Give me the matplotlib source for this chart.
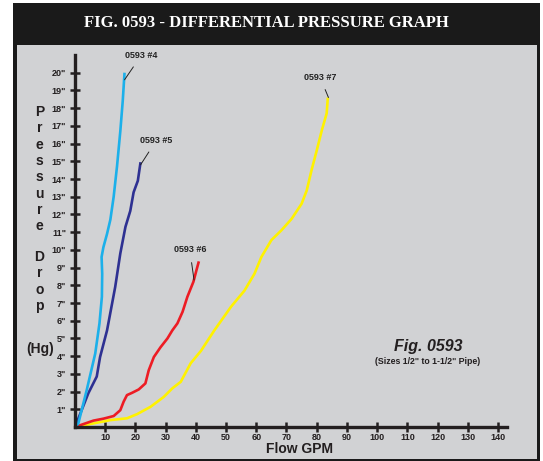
import matplotlib.pyplot as plt
from matplotlib.patches import Rectangle

# values (flow GPM, pressure drop in inches Hg)
flow_4 = [0, 1.1, 3.9, 6.7, 8.1, 8.9, 9.0, 8.8, 9.4, 10.6, 11.7, 12.8, 13.9, 15.0, 15.8, 16.4]
drop_4 = [0, 0.2, 2.1, 4.15, 5.85, 7.35, 8.65, 9.6, 10.15, 10.9, 11.7, 13.0, 14.7, 16.7, 18.4, 20.0]

flow_5 = [0, 4.4, 7.2, 8.3, 10.6, 13.3, 15.0, 16.7, 18.3, 19.4, 20.8, 21.7]
drop_5 = [0, 1.9, 2.85, 3.95, 5.45, 7.9, 9.8, 11.3, 12.2, 13.25, 13.9, 14.95]

flow_6 = [0, 6.1, 9.4, 12.8, 15.0, 16.1, 17.2, 18.9, 21.1, 23.3, 24.4, 26.1, 28.3, 30.6,
          32.2, 33.9, 35.6, 37.2, 39.2, 40.2, 41.0]
drop_6 = [0, 0.36, 0.47, 0.62, 0.95, 1.43, 1.8, 1.93, 2.12, 2.46, 3.2, 3.95, 4.5, 5.0,
          5.45, 5.85, 6.5, 7.35, 8.2, 8.85, 9.35]

flow_7 = [0, 11.7, 17.2, 20.6, 25.0, 29.4, 32.2, 35.0, 38.3, 41.7, 46.1, 51.7, 56.1, 59.4,
          61.7, 65.0, 68.3, 71.7, 75.0, 76.7, 78.3, 80.0, 81.7, 83.3, 83.7]
drop_7 = [0, 0.39, 0.49, 0.73, 1.14, 1.7, 2.18, 2.55, 3.6, 4.3, 5.45, 6.8, 7.7, 8.65,
          9.6, 10.55, 11.1, 11.75, 12.6, 13.35, 14.5, 15.6, 16.75, 17.7, 18.6]

x_ticks = list(range(10, 150, 10))
y_ticks = list(range(1, 21))
y_labels = [f'{v}"' for v in y_ticks]

# label text, label position, arrow tip
notes = [
    ("0593 #4", (22.0, 21.0), (16.4, 19.6)),
    ("0593 #5", (27.0, 16.2), (21.7, 14.8)),
    ("0593 #6", (38.0, 10.0), (39.4, 8.3)),
    ("0593 #7", (81.1, 19.75), (83.9, 18.6)),
]

W, H = 543, 461
fig = plt.figure(figsize=(W / 100, H / 100), dpi=100)
fig.patch.set_facecolor('white')

# black frame + grey panel
fig.patches.append(Rectangle((13 / W, 0), 527 / W, (H - 3) / H, transform=fig.transFigure,
                             facecolor='#1a1a1a', edgecolor='none', zorder=-2))
fig.patches.append(Rectangle((17 / W, 2 / H), 520 / W, (H - 47) / H, transform=fig.transFigure,
                             facecolor='#d1d2d4', edgecolor='none', zorder=-1))

fig.text(266 / W, 1 - 23 / H, "FIG. 0593 - DIFFERENTIAL PRESSURE GRAPH", color='white',
         fontsize=12, fontweight='bold', family='Liberation Serif',
         ha='center', va='center')

ax = fig.add_axes([75 / W, 34 / H, 432 / W, 372 / H])
ax.set_facecolor('none')
ax.set_xlim(0, 143)
ax.set_ylim(0, 21)

ax.plot(flow_7, drop_7, color='#fff200', lw=1.9, solid_capstyle='butt')
ax.plot(flow_6, drop_6, color='#ed1c24', lw=1.9, solid_capstyle='butt')
ax.plot(flow_5, drop_5, color='#2e3192', lw=1.9, solid_capstyle='butt')
ax.plot(flow_4, drop_4, color='#1cb0ea', lw=1.9, solid_capstyle='butt')

for txt, pos, tip in notes:
    ax.annotate(txt, xy=tip, xytext=pos, fontsize=6.5, fontweight='bold',
                family='Liberation Sans', color='#222222', ha='center', va='center',
                arrowprops=dict(arrowstyle='-', color='#222222', lw=0.7,
                                shrinkA=4, shrinkB=0))

for side in ['top', 'right']:
    ax.spines[side].set_visible(False)
for side in ['left', 'bottom']:
    ax.spines[side].set_linewidth(2.4)
    ax.spines[side].set_color('#231f20')

ax.set_xticks(x_ticks)
ax.set_yticks(y_ticks)
ax.set_yticklabels(y_labels)
ax.tick_params(direction='inout', length=7, width=1.8, color='#231f20',
               labelsize=6.5, pad=3)
ax.tick_params(axis='x', pad=1)
for lab in ax.get_xticklabels() + ax.get_yticklabels():
    lab.set_fontweight('bold')
    lab.set_family('Liberation Sans')
    lab.set_color('#231f20')

fig.text(299 / W, 1 - 449 / H, "Flow GPM", fontsize=10,
         fontweight='bold', family='Liberation Sans', color='#231f20',
         ha='center', va='center')

# vertical stacked y label
for i, ch in enumerate("Pressure"):
    fig.text(39.5 / W, 1 - (112 + i * 16.3) / H, ch, fontsize=10, fontweight='bold',
             family='Liberation Sans', color='#231f20', ha='center', va='center')
for i, ch in enumerate("Drop"):
    fig.text(39.5 / W, 1 - (257 + i * 16.3) / H, ch, fontsize=10, fontweight='bold',
             family='Liberation Sans', color='#231f20', ha='center', va='center')
fig.text(40 / W, 1 - 349 / H, "(Hg)", fontsize=10, fontweight='bold',
         family='Liberation Sans', color='#231f20', ha='center', va='center')

fig.text(428 / W, 1 - 346 / H, "Fig. 0593", fontsize=11.5, fontweight='bold',
         fontstyle='italic', family='Liberation Sans', color='#231f20',
         ha='center', va='center')
fig.text(428 / W, 1 - 361 / H, '(Sizes 1/2" to 1-1/2" Pipe)', fontsize=6.3,
         fontweight='bold', family='Liberation Sans', color='#231f20',
         ha='center', va='center')

fig.savefig('out.png', dpi=100, facecolor=fig.get_facecolor())
